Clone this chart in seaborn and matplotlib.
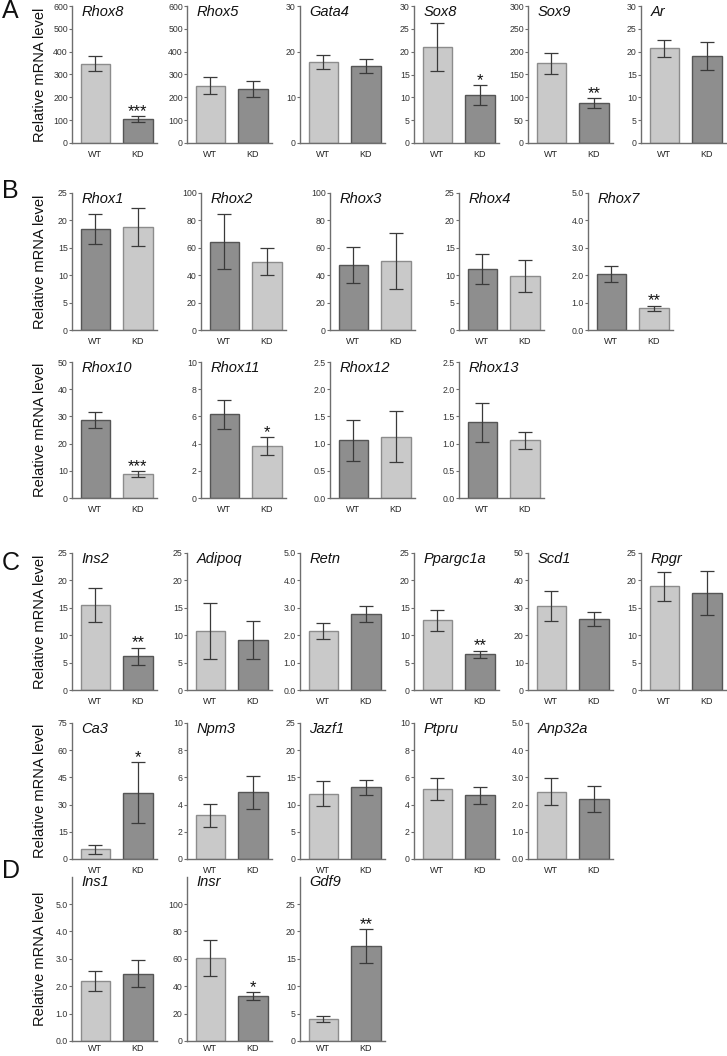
import matplotlib
matplotlib.use('Agg')
import matplotlib.pyplot as plt
import seaborn as sns
import numpy as np
from matplotlib.ticker import FormatStrFormatter

groups = ['WT', 'KD']

# panel A
a_genes = ['Rhox8', 'Rhox5', 'Gata4', 'Sox8', 'Sox9', 'Ar']
a_wt = [348, 250, 17.7, 21.0, 175, 20.7]
a_wt_err = [32, 37, 1.5, 5.2, 23, 1.9]
a_kd = [105, 235, 16.8, 10.5, 88, 19.1]
a_kd_err = [13, 35, 1.5, 2.2, 11, 3.1]
a_ymax = [600, 600, 30, 30, 300, 30]
a_step = [100, 100, 10, 5, 50, 5]
a_stars = ['***', '', '', '*', '**', '']

# panel B
b_genes = ['Rhox1', 'Rhox2', 'Rhox3', 'Rhox4', 'Rhox7', 'Rhox10', 'Rhox11', 'Rhox12', 'Rhox13']
b_wt = [18.4, 64.5, 47.5, 11.1, 2.05, 28.7, 6.15, 1.06, 1.39]
b_wt_err = [2.7, 20, 13, 2.75, 0.28, 3.0, 1.06, 0.375, 0.36]
b_kd = [18.8, 50, 50.2, 9.8, 0.8, 8.8, 3.83, 1.13, 1.06]
b_kd_err = [3.4, 9.5, 20.5, 2.95, 0.09, 1.1, 0.65, 0.465, 0.16]
b_ymax = [25, 100, 100, 25, 5, 50, 10, 2.5, 2.5]
b_step = [5, 20, 20, 5, 1, 10, 2, 0.5, 0.5]
b_stars = ['', '', '', '', '**', '***', '*', '', '']

# panel C
c_genes = ['Ins2', 'Adipoq', 'Retn', 'Ppargc1a', 'Scd1', 'Rpgr',
           'Ca3', 'Npm3', 'Jazf1', 'Ptpru', 'Anp32a']
c_wt = [15.5, 10.8, 2.15, 12.7, 30.7, 18.9, 5.45, 3.22, 12.0, 5.17, 2.48]
c_wt_err = [3.1, 5.1, 0.28, 1.85, 5.55, 2.6, 2.45, 0.85, 2.25, 0.8, 0.5]
c_kd = [6.2, 9.1, 2.78, 6.5, 25.9, 17.7, 36.5, 4.9, 13.2, 4.7, 2.2]
c_kd_err = [1.55, 3.45, 0.3, 0.7, 2.45, 4.1, 16.9, 1.2, 1.4, 0.63, 0.49]
c_ymax = [25, 25, 5, 25, 50, 25, 75, 10, 25, 10, 5]
c_step = [5, 5, 1, 5, 10, 5, 15, 2, 5, 2, 1]
c_stars = ['**', '', '', '**', '', '', '*', '', '', '', '']

# panel D
d_genes = ['Ins1', 'Insr', 'Gdf9']
d_wt = [2.18, 60.7, 4.05]
d_wt_err = [0.36, 13.1, 0.6]
d_kd = [2.46, 32.8, 17.3]
d_kd_err = [0.5, 3.0, 3.05]
d_ymax = [5, 100, 25]
d_step = [1, 20, 5]
d_stars = ['', '*', '**']

light = '#c9c9c9'
dark = '#8e8e8e'
light_edge = '#8c8c8c'
dark_edge = '#555555'
axis_col = '#6e6e6e'

sns.set_style('ticks')
plt.rcParams['font.family'] = ['Liberation Sans', 'DejaVu Sans']

W, H = 727, 1056
fig = plt.figure(figsize=(W / 100, H / 100), dpi=100)


def add_ax(left, top, width, height):
    return fig.add_axes([left / W, 1 - (top + height) / H, width / W, height / H])


def draw_gene(ax, gene, means, errs, ymax, step, star, colors, edges, stretch=1.0, xpad=5):
    sns.barplot(x=groups, y=means, hue=groups, palette=colors, legend=False,
                width=0.7, linewidth=1.0, ax=ax)
    for patch, ec in zip(ax.patches, edges):
        patch.set_edgecolor(ec)
    ax.errorbar([0, 1], means, yerr=errs, fmt='none', ecolor='#3a3a3a',
                elinewidth=0.9, capsize=5, capthick=0.9)
    ax.set_xlim(-0.55, 1.45)
    ax.set_ylim(0, ymax * stretch)
    ax.set_yticks(np.arange(0, ymax + step / 2, step))
    if step < 1 or ymax <= 5:
        ax.yaxis.set_major_formatter(FormatStrFormatter('%.1f'))
    else:
        ax.yaxis.set_major_formatter(FormatStrFormatter('%d'))
    sns.despine(ax=ax)
    for s in ['left', 'bottom']:
        ax.spines[s].set_color(axis_col)
        ax.spines[s].set_linewidth(1.0)
    ax.tick_params(axis='x', length=0, labelsize=6.5, pad=xpad, colors='#222222')
    ax.tick_params(axis='y', length=2.2, width=0.8, labelsize=6.3, pad=0.8,
                   color=axis_col, labelcolor='#333333')
    ax.set_xlabel('')
    ax.set_ylabel('')
    ax.text(0.11, 1.01, gene, transform=ax.transAxes, ha='left', va='top',
            fontsize=10.5, style='italic', color='#111111')
    if star:
        ax.annotate(star, xy=(1, means[1] + errs[1]), xytext=(0, 0),
                    textcoords='offset points', ha='center', va='baseline',
                    fontsize=12, color='#111111')


def draw_row(lefts, top, height, genes, wt, wt_err, kd, kd_err, ymax, step, stars,
             colors, edges, stretch=1.0, xpad=5):
    for i, left in enumerate(lefts):
        ax = add_ax(left, top, 85, height)
        draw_gene(ax, genes[i], [wt[i], kd[i]], [wt_err[i], kd_err[i]],
                  ymax[i], step[i], stars[i], colors, edges, stretch, xpad)


def row_label(top, height):
    fig.text(40 / W, 1 - (top + height / 2) / H, 'Relative mRNA level',
             rotation=90, ha='center', va='center', fontsize=10.5, color='#111111')


def panel_letter(letter, top):
    fig.text(2 / W, 1 - (top - 4) / H, letter, ha='left', va='top',
             fontsize=18, color='#111111')


wide = [72, 187, 300, 414, 528, 641]
narrow = [72, 201, 330, 459, 588]
wt_light = [light, dark]
wt_light_edge = [light_edge, dark_edge]
wt_dark = [dark, light]
wt_dark_edge = [dark_edge, light_edge]

# A
draw_row(wide, 6, 137, a_genes, a_wt, a_wt_err, a_kd, a_kd_err, a_ymax, a_step,
         a_stars, wt_light, wt_light_edge)
row_label(6, 137)
panel_letter('A', 3)

# B
draw_row(narrow, 193, 137, b_genes[:5], b_wt[:5], b_wt_err[:5], b_kd[:5], b_kd_err[:5],
         b_ymax[:5], b_step[:5], b_stars[:5], wt_dark, wt_dark_edge)
draw_row(narrow[:4], 362, 136, b_genes[5:], b_wt[5:], b_wt_err[5:], b_kd[5:], b_kd_err[5:],
         b_ymax[5:], b_step[5:], b_stars[5:], wt_dark, wt_dark_edge)
row_label(193, 137)
row_label(362, 136)
panel_letter('B', 183)

# C
draw_row(wide, 553, 137, c_genes[:6], c_wt[:6], c_wt_err[:6], c_kd[:6], c_kd_err[:6],
         c_ymax[:6], c_step[:6], c_stars[:6], wt_light, wt_light_edge)
draw_row(wide[:5], 723, 136, c_genes[6:], c_wt[6:], c_wt_err[6:], c_kd[6:], c_kd_err[6:],
         c_ymax[6:], c_step[6:], c_stars[6:], wt_light, wt_light_edge)
row_label(553, 137)
row_label(723, 136)
panel_letter('C', 555)

# D (taller axis line than the other rows)
draw_row(wide[:3], 877, 164, d_genes, d_wt, d_wt_err, d_kd, d_kd_err, d_ymax, d_step,
         d_stars, wt_light, wt_light_edge, stretch=164 / 137, xpad=2.5)
row_label(877, 164)
panel_letter('D', 863)

fig.savefig('out.png', dpi=100)
plt.close()
